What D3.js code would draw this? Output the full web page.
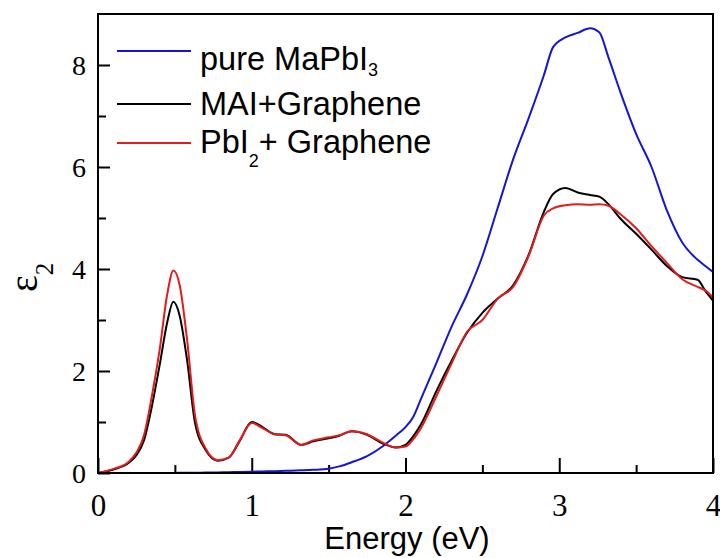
<!DOCTYPE html>
<html>
<head>
<meta charset="utf-8">
<script src="https://cdn.jsdelivr.net/npm/d3@7"></script>
<style>
html,body{margin:0;padding:0;background:#fff;}
svg{display:block;}
</style>
</head>
<body>
<svg id="chart" width="720" height="558"></svg>
<script>
// Energy grid (eV)
const energy = [0, 0.1, 0.2, 0.25, 0.3, 0.35, 0.4, 0.45, 0.49, 0.53, 0.58, 0.63, 0.7, 0.78, 0.85, 0.92, 1.0, 1.07, 1.15, 1.22, 1.32, 1.4, 1.5, 1.57, 1.65, 1.75, 1.85, 1.94, 2.0, 2.05, 2.1, 2.2, 2.3, 2.4, 2.5, 2.6, 2.7, 2.8, 2.9, 2.96, 3.04, 3.12, 3.2, 3.26, 3.32, 3.4, 3.5, 3.6, 3.7, 3.8, 3.9, 3.95, 4.0];
// pure MaPbI3
const pureMAPbI3 = [0, 0, 0, 0, 0, 0, 0, 0, 0.002, 0.003, 0.004, 0.006, 0.008, 0.012, 0.016, 0.02, 0.025, 0.03, 0.035, 0.042, 0.052, 0.062, 0.085, 0.13, 0.21, 0.33, 0.52, 0.74, 0.9, 1.1, 1.45, 2.15, 2.87, 3.5, 4.25, 5.2, 6.15, 6.95, 7.8, 8.35, 8.54, 8.63, 8.72, 8.64, 8.15, 7.45, 6.65, 6.0, 5.15, 4.52, 4.18, 4.06, 3.94];
// MAI + Graphene
const maiGraphene = [0, 0.07, 0.2, 0.35, 0.65, 1.3, 2.1, 2.95, 3.36, 3.1, 2.2, 1.0, 0.45, 0.24, 0.3, 0.62, 1.0, 0.9, 0.76, 0.75, 0.55, 0.62, 0.68, 0.73, 0.82, 0.75, 0.58, 0.5, 0.55, 0.72, 0.95, 1.6, 2.2, 2.75, 3.14, 3.42, 3.68, 4.27, 5.12, 5.47, 5.59, 5.5, 5.45, 5.42, 5.27, 4.98, 4.69, 4.38, 4.06, 3.84, 3.79, 3.57, 3.38];
// PbI2 + Graphene
const pbi2Graphene = [0, 0.08, 0.22, 0.4, 0.75, 1.5, 2.4, 3.5, 3.97, 3.7, 2.6, 1.15, 0.48, 0.25, 0.3, 0.63, 0.98, 0.88, 0.76, 0.74, 0.55, 0.64, 0.7, 0.74, 0.82, 0.76, 0.6, 0.5, 0.52, 0.66, 0.88, 1.5, 2.15, 2.77, 3.0, 3.42, 3.65, 4.25, 5.05, 5.19, 5.25, 5.27, 5.26, 5.27, 5.24, 5.07, 4.8, 4.45, 4.12, 3.8, 3.65, 3.58, 3.44];

const xMajorTicks = [0, 1, 2, 3, 4];
const xMinorTicks = [0.5, 1.5, 2.5, 3.5];
const yMajorTicks = [0, 2, 4, 6, 8];
const yMinorTicks = [1, 3, 5, 7];

const seriesNames = ["pure MaPbI", "MAI+Graphene", "PbI"];
const seriesColors = ["#1515d6", "#000000", "#e21b1b"];

const svg = d3.select("#chart");
const mLeft = 98, mRight = 713, mTop = 14, mBottom = 473;

const x = d3.scaleLinear().domain([0, 4]).range([mLeft, mRight]);
const y = d3.scaleLinear().domain([0, 9]).range([mBottom, mTop]);

// axes
const gxMaj = svg.append("g").attr("transform", `translate(0,${mBottom})`)
  .call(d3.axisBottom(x).tickValues(xMajorTicks).tickFormat(d3.format("d")).tickSize(-15));
const gxMin = svg.append("g").attr("transform", `translate(0,${mBottom})`)
  .call(d3.axisBottom(x).tickValues(xMinorTicks).tickFormat("").tickSize(-8));
const gyMaj = svg.append("g").attr("transform", `translate(${mLeft},0)`)
  .call(d3.axisLeft(y).tickValues(yMajorTicks).tickFormat(d3.format("d")).tickSize(-12));
const gyMin = svg.append("g").attr("transform", `translate(${mLeft},0)`)
  .call(d3.axisLeft(y).tickValues(yMinorTicks).tickFormat("").tickSize(-8));

[gxMaj, gxMin, gyMaj, gyMin].forEach(g => {
  g.select(".domain").remove();
  g.selectAll(".tick line").attr("stroke", "#000").attr("stroke-width", 2);
});
const serif = "'Liberation Serif', 'Times New Roman', serif";
gxMaj.selectAll(".tick text").attr("font-family", serif).attr("font-size", 31).attr("fill", "#000")
  .attr("y", 43).attr("dy", 0);
gyMaj.selectAll(".tick text").attr("font-family", serif).attr("font-size", 28).attr("fill", "#000")
  .attr("x", -12).attr("dy", "0.34em");

// lines
const line = d3.line().x((d, i) => x(energy[i])).y(d => y(d)).curve(d3.curveMonotoneX);
const seriesData = [pureMAPbI3, maiGraphene, pbi2Graphene];
svg.append("defs").append("clipPath").attr("id", "clip")
  .append("rect").attr("x", mLeft).attr("y", mTop).attr("width", mRight - mLeft).attr("height", mBottom - mTop);
const plot = svg.append("g").attr("clip-path", "url(#clip)");
seriesData.forEach((s, k) => {
  plot.append("path").datum(s).attr("d", line)
    .attr("fill", "none").attr("stroke", seriesColors[k]).attr("stroke-width", 2)
    .attr("stroke-linejoin", "round");
});

// frame
svg.append("rect").attr("x", mLeft).attr("y", mTop).attr("width", mRight - mLeft).attr("height", mBottom - mTop)
  .attr("fill", "none").attr("stroke", "#000").attr("stroke-width", 2);

// legend
const legFont = "'Liberation Sans', Arial, sans-serif";
const legLineY = [51, 104, 143];
const legTextY = [70, 115, 153];
seriesNames.forEach((n, k) => {
  svg.append("line").attr("x1", 117).attr("x2", 191).attr("y1", legLineY[k]).attr("y2", legLineY[k])
    .attr("stroke", seriesColors[k]).attr("stroke-width", 2);
  const t = svg.append("text").attr("x", 200).attr("y", legTextY[k])
    .attr("font-family", legFont).attr("font-size", 32.5).attr("fill", "#000");
  if (k === 0) {
    t.append("tspan").text(n);
    t.append("tspan").attr("dy", 6).attr("font-size", 18).text("3");
  } else if (k === 1) {
    t.text(n);
  } else {
    t.append("tspan").text(n);
    t.append("tspan").attr("dy", 14).attr("font-size", 18).text("2");
    t.append("tspan").attr("dy", -14).text("+ Graphene");
  }
});

// axis titles
svg.append("text").attr("x", 407).attr("y", 549).attr("text-anchor", "middle")
  .attr("font-family", legFont).attr("font-size", 31).attr("fill", "#000").text("Energy (eV)");

const yt = svg.append("text").attr("transform", "translate(37,292) rotate(-90)")
  .attr("font-family", serif).attr("fill", "#000");
yt.append("tspan").attr("font-size", 40).text("ε");
yt.append("tspan").attr("font-size", 25).attr("dy", 16).text("2");
</script>
</body>
</html>
